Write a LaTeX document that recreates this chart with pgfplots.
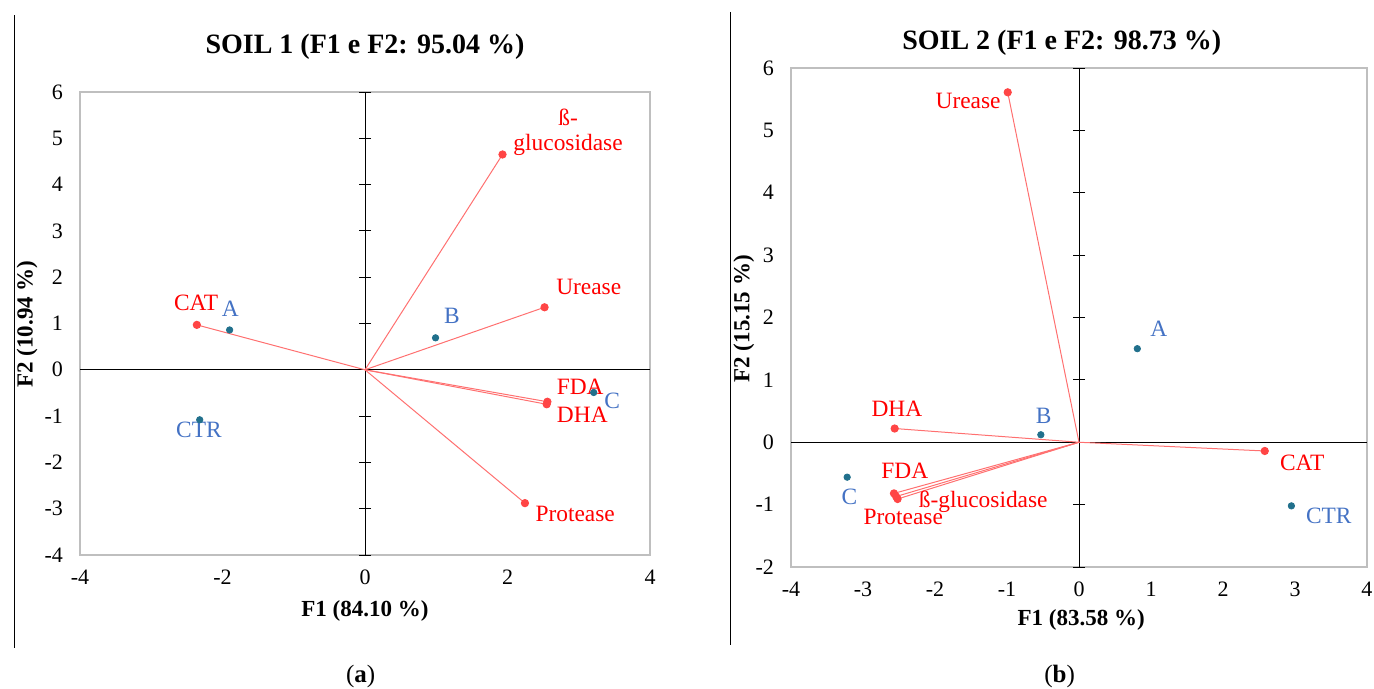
\documentclass[border=0pt]{standalone}
\usepackage{fontspec}
\setmainfont{Liberation Serif}
\usepackage{pgfplots}
\pgfplotsset{compat=1.18}
\definecolor{vecred}{HTML}{FF7070}
\definecolor{dotred}{HTML}{FF4545}
\definecolor{obsblue}{HTML}{21708C}
\definecolor{lblblue}{HTML}{4472C4}
\definecolor{framegray}{HTML}{BFBFBF}
\newcommand\lbl{\fontsize{11.7}{12.5}\selectfont}
\pgfplotsset{pcastyle/.style={
  scale only axis, clip=false,
  axis line style={framegray, line width=0.8pt},
  major tick length=0pt,
  /pgf/number format/assume math mode=true,
  ticklabel style={font=\fontsize{11}{13}\selectfont},
  yticklabel style={xshift=-5pt},
  xticklabel style={yshift=-4pt},
  extra x ticks={0}, extra y ticks={0},
  extra x tick labels={}, extra y tick labels={},
  extra tick style={major tick length=0pt, grid=major, major grid style={black, line width=0.45pt}},
},
vec/.style={vecred, line width=0.5pt, mark=*, mark indices={2},
  mark size=1.8pt, mark options={draw=dotred, fill=dotred}},
obs/.style={only marks, mark=*, mark size=1.6pt, mark options={draw=obsblue, fill=obsblue}},
tk/.style={only marks, mark=-, mark size=3pt, mark options={draw=black, line width=0.45pt}},
}
\begin{document}
\begin{tikzpicture}
\useasboundingbox (0,0) rectangle (687pt,344.5pt);
% ---------------- SOIL 1 ----------------
\begin{axis}[pcastyle, at={(40pt,67pt)}, anchor=south west,
  width=285pt, height=231.5pt,
  xmin=-4, xmax=4, ymin=-4, ymax=6,
  xtick={-4,-2,0,2,4}, ytick={-4,-3,-2,-1,0,1,2,3,4,5,6}]
\addplot[tk] coordinates {(0,-4) (0,-3) (0,-2) (0,-1) (0,1) (0,2) (0,3) (0,4) (0,5) (0,6)};
\addplot[vec] coordinates {(0,0) (-2.36,0.97)};
\addplot[vec] coordinates {(0,0) (1.93,4.65)};
\addplot[vec] coordinates {(0,0) (2.52,1.35)};
\addplot[vec] coordinates {(0,0) (2.56,-0.69)};
\addplot[vec] coordinates {(0,0) (2.55,-0.745)};
\addplot[vec] coordinates {(0,0) (2.245,-2.88)};
\addplot[obs] coordinates {(-1.90,0.86) (0.99,0.69) (3.21,-0.49) (-2.32,-1.08)};
\node[red, font=\lbl] at (axis cs:-2.37,1.44) {CAT};
\node[red, font=\lbl, align=center] at (axis cs:2.85,5.14) {ß-\\glucosidase};
\node[red, font=\lbl] at (axis cs:3.14,1.79) {Urease};
\node[red, font=\lbl] at (axis cs:3.02,-0.37) {FDA};
\node[red, font=\lbl] at (axis cs:3.05,-0.97) {DHA};
\node[red, font=\lbl] at (axis cs:2.95,-3.11) {Protease};
\node[lblblue, font=\lbl] at (axis cs:-1.89,1.32) {A};
\node[lblblue, font=\lbl] at (axis cs:1.22,1.17) {B};
\node[lblblue, font=\lbl] at (axis cs:3.47,-0.67) {C};
\node[lblblue, font=\lbl] at (axis cs:-2.33,-1.30) {CTR};
\node[font=\fontsize{14}{16}\selectfont\bfseries] at (axis cs:0,6.98) {SOIL 1 (F1 e F2: 95.04 \%)};
\node[font=\fontsize{11.5}{13}\selectfont\bfseries] at (axis cs:0,-5.205) {F1 (84.10 \%)};
\node[font=\fontsize{11.5}{13}\selectfont\bfseries, rotate=90] at (axis cs:-4.744,0.99) {F2 (10.94 \%)};
\node[font=\fontsize{12.5}{14}\selectfont] at (axis cs:-0.06,-6.63) {(\textbf{a})};
\draw[black, line width=0.5pt] (axis cs:-4.918,7.66) -- (axis cs:-4.918,-6.0);
\end{axis}
% ---------------- SOIL 2 ----------------
\begin{axis}[pcastyle, at={(395.5pt,61pt)}, anchor=south west,
  width=288pt, height=249.5pt,
  xmin=-4, xmax=4, ymin=-2, ymax=6,
  xtick={-4,-3,-2,-1,0,1,2,3,4}, ytick={-2,-1,0,1,2,3,4,5,6}]
\addplot[tk] coordinates {(0,-2) (0,-1) (0,1) (0,2) (0,3) (0,4) (0,5) (0,6)};
\addplot[vec] coordinates {(0,0) (-0.99,5.61)};
\addplot[vec] coordinates {(0,0) (-2.56,0.22)};
\addplot[vec] coordinates {(0,0) (2.58,-0.14)};
\addplot[vec] coordinates {(0,0) (-2.57,-0.82)};
\addplot[vec] coordinates {(0,0) (-2.52,-0.91)};
\addplot[vec] coordinates {(0,0) (-2.54,-0.87)};
\addplot[obs] coordinates {(0.81,1.50) (-0.53,0.12) (-3.22,-0.56) (2.95,-1.02)};
\node[red, font=\lbl] at (axis cs:-1.54,5.47) {Urease};
\node[red, font=\lbl] at (axis cs:-2.53,0.53) {DHA};
\node[red, font=\lbl] at (axis cs:3.10,-0.33) {CAT};
\node[red, font=\lbl] at (axis cs:-2.42,-0.46) {FDA};
\node[red, font=\lbl] at (axis cs:-1.33,-0.96) {ß-glucosidase};
\node[red, font=\lbl] at (axis cs:-2.44,-1.19) {Protease};
\node[lblblue, font=\lbl] at (axis cs:1.11,1.82) {A};
\node[lblblue, font=\lbl] at (axis cs:-0.49,0.42) {B};
\node[lblblue, font=\lbl] at (axis cs:-3.19,-0.87) {C};
\node[lblblue, font=\lbl] at (axis cs:3.47,-1.18) {CTR};
\node[font=\fontsize{14}{16}\selectfont\bfseries] at (axis cs:-0.24,6.41) {SOIL 2 (F1 e F2: 98.73 \%)};
\node[font=\fontsize{11.5}{13}\selectfont\bfseries] at (axis cs:0.03,-2.85) {F1 (83.58 \%)};
\node[font=\fontsize{11.5}{13}\selectfont\bfseries, rotate=90] at (axis cs:-4.654,1.98) {F2 (15.15 \%)};
\node[font=\fontsize{12.5}{14}\selectfont] at (axis cs:-0.27,-3.75) {(\textbf{b})};
\draw[black, line width=0.5pt] (axis cs:-4.835,6.90) -- (axis cs:-4.835,-3.25);
\end{axis}
\end{tikzpicture}
\end{document}
